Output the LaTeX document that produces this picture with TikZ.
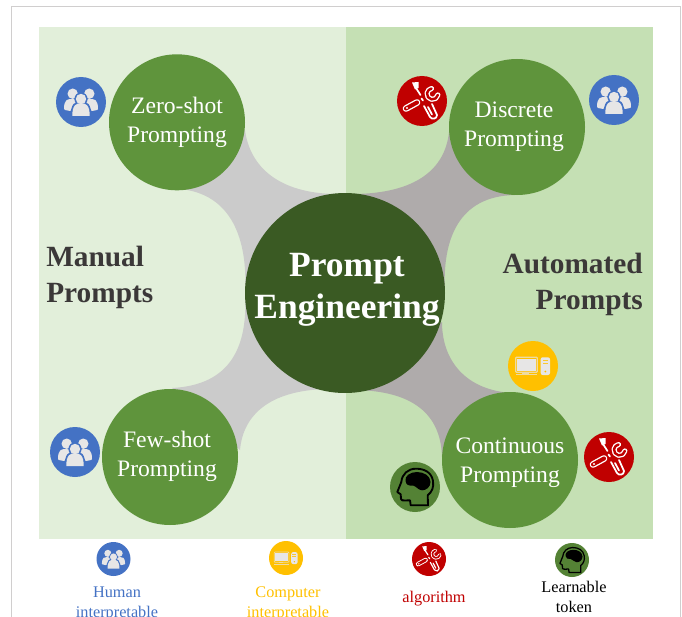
\documentclass[tikz,border=0pt]{standalone}
\usepackage{fontspec}
\setmainfont{Liberation Serif}
\definecolor{leftbg}{HTML}{E2EFDA}
\definecolor{rightbg}{HTML}{C5E0B4}
\definecolor{framec}{HTML}{D0CECE}
\definecolor{greyL}{HTML}{CBCBCB}
\definecolor{greyR}{HTML}{AFABAB}
\definecolor{midgreen}{HTML}{5F943C}
\definecolor{darkgreen}{HTML}{3A5A23}
\definecolor{headgreen}{HTML}{548235}
\definecolor{humanblue}{HTML}{4472C4}
\definecolor{compyellow}{HTML}{FFC000}
\definecolor{algored}{HTML}{C00000}
\definecolor{lightgrey}{HTML}{E7E6E6}
\definecolor{titlegrey}{HTML}{3B3838}
\tikzset{
  x=0.75pt,y=-0.75pt,
  subtopic/.style={circle,fill=midgreen,minimum size=102pt,inner sep=0pt},
  subtext/.style={text=white,inner sep=0pt,align=center,font=\fontsize{17.7}{21.6}\selectfont},
  hub/.style={circle,fill=darkgreen,minimum size=150pt,inner sep=0pt},
  hubtext/.style={text=white,inner sep=0pt,align=center,font=\fontsize{26.6}{31.5}\selectfont\bfseries},
  sidetitle/.style={text=titlegrey,inner sep=0pt,font=\fontsize{22}{26.5}\selectfont\bfseries},
  legendtext/.style={inner sep=0pt,align=center,font=\fontsize{12.2}{15}\selectfont},
  badge/.style={circle,inner sep=0pt,minimum size=#1*37.5pt},
}
% #1 name, #2 centre, #3 scale
\newcommand{\peopleicon}[3]{%
  \node[badge=#3,fill=humanblue] (#1) at #2 {};
  \begin{scope}[shift={#2},scale=#3]
    \fill[lightgrey] (-8.3,-8.3) circle (5.2);
    \fill[lightgrey] (8.3,-8.3) circle (5.2);
    \fill[lightgrey] (-17,7) .. controls (-17,-3) and (-13,-3) .. (-9,-3) .. controls (-5,-3) and (-3,-1) .. (-3,3) -- (-11,9) -- (-16,8) -- cycle;
    \fill[lightgrey] (17,7) .. controls (17,-3) and (13,-3) .. (9,-3) .. controls (5,-3) and (3,-1) .. (3,3) -- (11,9) -- (16,8) -- cycle;
    \fill[humanblue] (0,-3) circle (6.6);
    \fill[humanblue] (-10.5,15.5) .. controls (-10.5,1) and (-6,-0.5) .. (0,-0.5) .. controls (6,-0.5) and (10.5,1) .. (10.5,15.5) -- cycle;
    \fill[lightgrey] (0,-3) circle (5.2);
    \fill[lightgrey] (-8.7,14) .. controls (-8.7,3) and (-5,1.2) .. (0,1.2) .. controls (5,1.2) and (8.7,3) .. (8.7,14) -- cycle;
  \end{scope}}
\newcommand{\toolsicon}[3]{%
  \node[badge=#3,fill=algored] (#1) at #2 {};
  \begin{scope}[shift={#2},scale=#3,line cap=round,line join=round]
    % screwdriver handle, lower left
    \draw[white,line width=#3*5pt] (-16,7.5) -- (-5,1.5);
    \draw[algored,line width=#3*3pt] (-16,7.5) -- (-5,1.5);
    \fill[white] (-15,7) circle (1.2);
    % shaft and tip, upper left
    \draw[white,line width=#3*1.3pt] (-6,-13) -- (-1.5,-6);
    \fill[white] (-10,-18.5) -- (-3.5,-19) -- (-3.5,-13) -- (-7,-11.5) -- cycle;
    \draw[white,line width=#3*1.3pt] (-0.5,-2.5) -- (1,-0.5);
    % wrench head, upper right
    \draw[white,line width=#3*3.8pt] (15.9,-6.1) arc[start angle=10,end angle=260,radius=5.5];
    \draw[algored,line width=#3*1.8pt] (15.9,-6.1) arc[start angle=10,end angle=260,radius=5.5];
    % wrench end, lower right
    \draw[white,line width=#3*1.3pt] (2,5) -- (8,16) .. controls (10,19) and (15,18) .. (15,14) -- (10,3);
    \draw[white,line width=#3*1.3pt] (6,6) -- (10,13.5);
  \end{scope}}
\newcommand{\compicon}[3]{%
  \node[badge=#3,fill=compyellow] (#1) at #2 {};
  \begin{scope}[shift={#2},scale=#3]
    \draw[lightgrey!70!compyellow,line width=#3*0.9pt,fill=compyellow,rounded corners=0.6] (-17.3,-8.7) rectangle (4.3,6.3);
    \fill[lightgrey] (-15.7,-7) rectangle (2.7,4.7);
    \fill[lightgrey!70!compyellow] (-11,6.3) rectangle (-4,8);
    \fill[lightgrey!70!compyellow] (-17.3,8.3) rectangle (4.3,9.2);
    \fill[lightgrey,rounded corners=1.5] (7.7,-8.7) rectangle (17,9);
    \fill[compyellow!80!lightgrey] (9.5,-6) rectangle (15.2,-5);
    \fill[compyellow!80!lightgrey] (9.5,-2.8) rectangle (15.2,-1.8);
    \fill[compyellow] (12.3,5.5) circle (1);
  \end{scope}}
\newcommand{\headicon}[3]{%
  \node[badge=#3,fill=headgreen] (#1) at #2 {};
  \begin{scope}[shift={#2},scale=#3,line join=round]
    \draw[black,line width=#3*1.4pt]
      (13,18.3) -- (12.7,8.3) .. controls (17,5) and (19,0) .. (18,-6)
      .. controls (16.5,-15) and (9,-18.3) .. (1,-18.3)
      .. controls (-7,-18.3) and (-13,-13) .. (-13.7,-5)
      -- (-17.7,5) -- (-14.3,7.3) -- (-14,12) .. controls (-13.7,13.5) and (-12,13.5) .. (-10,13.5)
      -- (-5,13.3) -- (-4.3,18.3) -- cycle;
    \fill[black] (-9.5,-6) .. controls (-10.5,-11) and (-5,-15) .. (2,-15)
      .. controls (9,-15) and (15.5,-11) .. (15.5,-5)
      .. controls (15.5,0) and (11,3.5) .. (7,3.3)
      .. controls (3,3) and (1,-1) .. (-2,-1.5)
      .. controls (-6,-1) and (-9,-2) .. (-9.5,-6) -- cycle;
  \end{scope}}
\begin{document}
\begin{tikzpicture}
\clip (0,0) rectangle (682,617);
% frame
\draw[framec,line width=1.1pt] (11.7,660) -- (11.7,6.7) -- (680.7,6.7) -- (680.7,660);
% backgrounds
\fill[leftbg] (39,27) rectangle (346,539);
\fill[rightbg] (346,27) rectangle (653,539);
% grey connecting shapes
\fill[greyL] (245,130) .. controls (250,168) and (280,193) .. (335,194) -- (245,293)
  .. controls (248,240) and (232,194) .. (180,189) -- cycle;
\fill[greyL] (245,293) .. controls (248,345) and (232,385) .. (172,388) -- (240,450)
  .. controls (243,415) and (270,388) .. (335,389) -- cycle;
\fill[greyR] (449,132) .. controls (445,170) and (415,193) .. (355,194) -- (445,293)
  .. controls (442,240) and (458,196) .. (515,195) -- cycle;
\fill[greyR] (442,322) .. controls (442,360) and (465,390) .. (512,393) -- (442,457)
  .. controls (441,420) and (420,391) .. (355,390) -- cycle;
% circles
\node[hub] (hub) at (345,293) {};
\node[hubtext] (hubt) at (347,290) {Prompt\\Engineering};
\node[subtopic] (zero) at (177,122.3) {};
\node[subtext] (zerot) at (177,122) {Zero-shot\\Prompting};
\node[subtopic] (discrete) at (517,127) {};
\node[subtext] (discretet) at (514,127) {Discrete\\Prompting};
\node[subtopic] (few) at (170,457) {};
\node[subtext] (fewt) at (167,456) {Few-shot\\Prompting};
\node[subtopic] (cont) at (510,460) {};
\node[subtext] (contt) at (510,463) {Continuous\\Prompting};
% side titles
\node[sidetitle,anchor=base west] (manual) at (46,266) {Manual};
\node[sidetitle,anchor=base west] (prompts1) at (46,302) {Prompts};
\node[sidetitle,anchor=base east] (auto) at (643,273) {Automated};
\node[sidetitle,anchor=base east] (prompts2) at (643,309) {Prompts};
% badges
\peopleicon{hA}{(81,102)}{1}
\peopleicon{hB}{(614,100)}{1}
\peopleicon{hC}{(75,452)}{1}
\toolsicon{tA}{(422,101)}{1}
\toolsicon{tB}{(609,457)}{1}
\compicon{cA}{(533,366)}{1}
\headicon{bA}{(415,487)}{1}
% legend
\peopleicon{lh}{(113.5,559)}{0.68}
\compicon{lc}{(286,558)}{0.68}
\toolsicon{lt}{(429,559)}{0.68}
\headicon{lb}{(572,560)}{0.68}
\node[legendtext,text=humanblue] (l1) at (117,604) {Human\\interpretable};
\node[legendtext,text=compyellow] (l2) at (288,604) {Computer\\interpretable};
\node[legendtext,text=algored] (l3) at (434,599) {algorithm};
\node[legendtext,text=black] (l4) at (574,597) {Learnable\\token};
\end{tikzpicture}
\end{document}
